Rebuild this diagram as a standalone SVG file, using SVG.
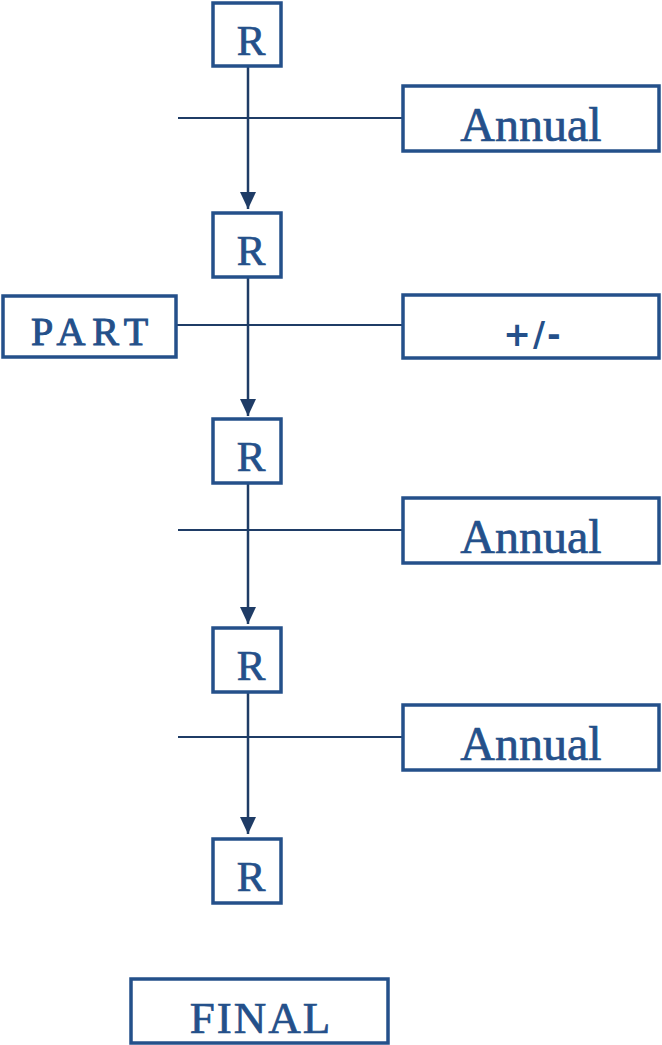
<svg xmlns="http://www.w3.org/2000/svg" width="662" height="1045" viewBox="0 0 662 1045">
  <style>
    .box { fill: #ffffff; stroke: #24508a; stroke-width: 3.5; }
    .lbl { font-family: "Liberation Serif", "Times New Roman", serif; fill: #24508a; stroke: #24508a; stroke-width: 0.7; text-anchor: middle; }
    .r { font-size: 43px; }
    .wide { font-size: 48px; }
    .caps { font-size: 40px; letter-spacing: 7px; stroke-width: 1; }
    .sym { font-family: "DejaVu Sans", "Liberation Sans", sans-serif; font-weight: bold; font-size: 33px; letter-spacing: 2px; fill: #24508a; text-anchor: middle; }
    .line { stroke: #1f3c66; stroke-width: 2; fill: none; }
    .flow { stroke: #1f3c66; stroke-width: 2.5; fill: none; }
  </style>
  <defs>
    <marker id="head" viewBox="0 0 17 16" refX="17" refY="8" markerWidth="17" markerHeight="16" markerUnits="userSpaceOnUse" orient="auto">
      <path d="M0,0 L17,8 L0,16 Z" fill="#1f3c66"/>
    </marker>
  </defs>

  <!-- connectors -->
  <g id="connectors">
    <line class="line" x1="178" y1="118" x2="404" y2="118"/>
    <line class="line" x1="176" y1="325" x2="404" y2="325"/>
    <line class="line" x1="178" y1="530" x2="404" y2="530"/>
    <line class="line" x1="178" y1="737" x2="404" y2="737"/>
    <line class="flow" x1="248" y1="66" x2="248" y2="209" marker-end="url(#head)"/>
    <line class="flow" x1="248" y1="277" x2="248" y2="416" marker-end="url(#head)"/>
    <line class="flow" x1="248" y1="483" x2="248" y2="624" marker-end="url(#head)"/>
    <line class="flow" x1="248" y1="692" x2="248" y2="834" marker-end="url(#head)"/>
  </g>

  <!-- review stages -->
  <g id="r1"><rect class="box" x="213" y="3" width="68" height="63"/><text class="lbl r" x="251" y="55">R</text></g>
  <g id="r2"><rect class="box" x="213" y="213" width="68" height="64"/><text class="lbl r" x="251" y="265">R</text></g>
  <g id="r3"><rect class="box" x="213" y="419" width="68" height="64"/><text class="lbl r" x="251" y="471">R</text></g>
  <g id="r4"><rect class="box" x="213" y="628" width="68" height="64"/><text class="lbl r" x="251" y="680">R</text></g>
  <g id="r5"><rect class="box" x="213" y="839" width="68" height="64"/><text class="lbl r" x="251" y="891">R</text></g>

  <!-- side labels -->
  <g id="annual1"><rect class="box" x="403" y="86" width="256" height="65"/><text class="lbl wide" x="531" y="141">Annual</text></g>
  <g id="adjust"><rect class="box" x="403" y="295" width="256" height="63"/><text class="sym" x="533" y="346">+/-</text></g>
  <g id="part"><rect class="box" x="3" y="296" width="173" height="61"/><text class="lbl caps" x="93" y="345">PART</text></g>
  <g id="annual2"><rect class="box" x="403" y="498" width="256" height="65"/><text class="lbl wide" x="531" y="553">Annual</text></g>
  <g id="annual3"><rect class="box" x="403" y="705" width="256" height="65"/><text class="lbl wide" x="531" y="760">Annual</text></g>

  <!-- end state -->
  <g id="final"><rect class="box" x="131" y="979" width="257" height="64"/><text class="lbl caps" x="261" y="1033" style="font-size:45px;letter-spacing:2px;stroke-width:0.7">FINAL</text></g>
</svg>
